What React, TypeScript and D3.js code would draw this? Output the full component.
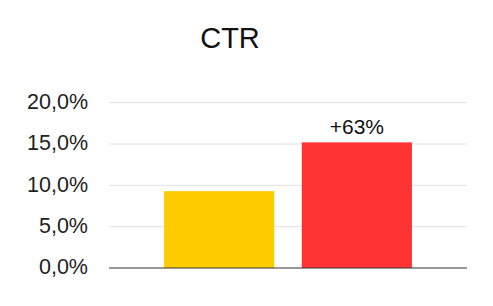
import React from "react";
import * as d3 from "d3";

const categories = ["Control", "Variant"];
const ctrValues = [9.3, 15.2];
const barColors = ["#FFCC00", "#FF3333"];
const yTicks = [0, 5, 10, 15, 20];
const upliftLabel = "+63%";
const title = "CTR";

const W = 493;
const H = 306;
const margin = { top: 102.7, right: 26, bottom: 38, left: 109 };

export default function App() {
  const x = d3
    .scaleBand<string>()
    .domain(categories)
    .range([margin.left, W - margin.right])
    .paddingInner(0.2)
    .paddingOuter(0.4);
  const y = d3
    .scaleLinear()
    .domain([0, 20])
    .range([H - margin.bottom, margin.top]);
  const fmt = (v: number) => v.toFixed(1).replace(".", ",") + "%";
  const font = "'Liberation Sans', Arial, sans-serif";

  return (
    <svg
      width={W}
      height={H}
      style={{ position: "absolute", left: 0, top: 0, background: "#fff" }}
      fontFamily={font}
    >
      <text x={230} y={48} textAnchor="middle" fontSize={29} fill="#111">
        {title}
      </text>
      {yTicks.map((t) => (
        <g key={t}>
          {t !== 0 && (
            <line
              x1={margin.left}
              x2={W - margin.right}
              y1={y(t)}
              y2={y(t)}
              stroke="#e2e2e2"
              strokeWidth={1}
            />
          )}
          <text
            x={88}
            y={y(t)}
            dy="0.3em"
            textAnchor="end"
            fontSize={21.5}
            fill="#222"
          >
            {fmt(t)}
          </text>
        </g>
      ))}
      {categories.map((c, i) => (
        <rect
          key={c}
          x={x(c)}
          y={y(ctrValues[i])}
          width={x.bandwidth()}
          height={y(0) - y(ctrValues[i])}
          fill={barColors[i]}
        />
      ))}
      <text
        x={(x(categories[1]) as number) + x.bandwidth() / 2}
        y={y(ctrValues[1]) - 8}
        textAnchor="middle"
        fontSize={21}
        fill="#111"
      >
        {upliftLabel}
      </text>
      <line
        x1={margin.left}
        x2={W - margin.right}
        y1={y(0)}
        y2={y(0)}
        stroke="#333"
        strokeWidth={1.2}
      />
    </svg>
  );
}
